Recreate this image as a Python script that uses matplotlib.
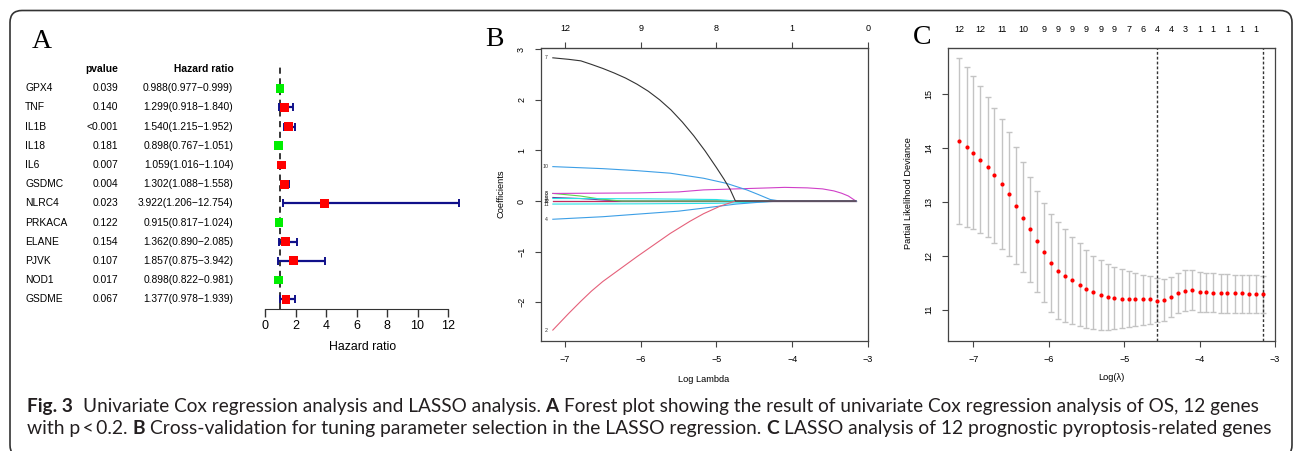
import numpy as np
import matplotlib
matplotlib.use('Agg')
import matplotlib.pyplot as plt
from matplotlib.patches import FancyBboxPatch
from matplotlib.transforms import IdentityTransform, blended_transform_factory

W, H = 1295, 451

plt.rcParams['font.family'] = ['Liberation Sans', 'DejaVu Sans']

# ---------------- A: univariate cox ----------------
genes = ['GPX4', 'TNF', 'IL1B', 'IL18', 'IL6', 'GSDMC', 'NLRC4', 'PRKACA', 'ELANE', 'PJVK', 'NOD1', 'GSDME']
pvals = ['0.039', '0.140', '<0.001', '0.181', '0.007', '0.004', '0.023', '0.122', '0.154', '0.107', '0.017', '0.067']
hr = [0.988, 1.299, 1.540, 0.898, 1.059, 1.302, 3.922, 0.915, 1.362, 1.857, 0.898, 1.377]
hr_low = [0.977, 0.918, 1.215, 0.767, 1.016, 1.088, 1.206, 0.817, 0.890, 0.875, 0.822, 0.978]
hr_high = [0.999, 1.840, 1.952, 1.051, 1.104, 1.558, 12.754, 1.024, 2.085, 3.942, 0.981, 1.939]
hr_ticks = [0, 2, 4, 6, 8, 10, 12]

# ---------------- B: lasso coefficient paths ----------------
path_7_x = [-7.16, -6.95, -6.79, -6.65, -6.5, -6.35, -6.2, -6.05, -5.9, -5.75, -5.6, -5.45,
            -5.3, -5.15, -5.0, -4.9, -4.82, -4.75, -3.16]
path_7_y = [2.83, 2.80, 2.77, 2.70, 2.62, 2.53, 2.43, 2.31, 2.17, 2.00, 1.80, 1.56,
            1.29, 0.99, 0.66, 0.43, 0.23, 0.0, 0.0]
path_2_x = [-7.16, -6.95, -6.79, -6.65, -6.5, -6.05, -5.61, -5.35, -5.17, -4.95, -4.75, -3.16]
path_2_y = [-2.55, -2.22, -1.98, -1.78, -1.59, -1.10, -0.64, -0.40, -0.25, -0.10, 0.0, 0.0]
path_10_x = [-7.16, -6.5, -6.05, -5.61, -5.17, -4.87, -4.6, -4.45, -4.29, -4.16, -3.16]
path_10_y = [0.68, 0.64, 0.60, 0.55, 0.45, 0.35, 0.22, 0.13, 0.03, 0.0, 0.0]
path_4_x = [-7.16, -6.5, -6.05, -5.5, -5.17, -4.74, -4.4, -4.16, -3.16]
path_4_y = [-0.36, -0.31, -0.26, -0.20, -0.14, -0.06, -0.02, 0.0, 0.0]
path_6_x = [-7.16, -6.05, -5.5, -5.17, -4.74, -4.3, -4.1, -3.8, -3.6, -3.45, -3.35, -3.26, -3.16]
path_6_y = [0.15, 0.16, 0.18, 0.22, 0.24, 0.26, 0.27, 0.26, 0.24, 0.20, 0.155, 0.10, 0.0]
path_3_x = [-7.16, -6.80, -6.54, -6.25, -3.16]
path_3_y = [0.15, 0.10, 0.04, 0.0, 0.0]
path_5_x = [-7.16, -6.0, -5.0, -4.75, -3.16]
path_5_y = [0.05, 0.045, 0.03, 0.0, 0.0]
path_11_x = [-7.16, -6.0, -5.0, -4.6, -4.2, -3.16]
path_11_y = [-0.06, -0.055, -0.045, -0.03, 0.0, 0.0]
path_9_x = [-7.16, -6.8, -6.3, -3.16]
path_9_y = [0.07, 0.05, 0.0, 0.0]
path_0_x = [-7.16, -3.16]
path_0_y = [0.0, 0.0]

paths = [
    ('1', '#333333', path_0_x, path_0_y),
    ('8', '#2297E6', path_0_x, path_0_y),
    ('12', '#C8285A', path_0_x, path_0_y),
    ('9', '#6A3D9A', path_9_x, path_9_y),
    ('3', '#61D04F', path_3_x, path_3_y),
    ('5', '#28E2E5', path_5_x, path_5_y),
    ('11', '#28E2E5', path_11_x, path_11_y),
    ('6', '#D040C8', path_6_x, path_6_y),
    ('4', '#3D9FE6', path_4_x, path_4_y),
    ('10', '#3D9FE6', path_10_x, path_10_y),
    ('2', '#E5607A', path_2_x, path_2_y),
    ('7', '#333333', path_7_x, path_7_y),
]
b_top_at = [-7, -6, -5, -4, -3]
b_top_df = ['12', '9', '8', '1', '0']

# ---------------- C: cross validation ----------------
cv_lambda = [-7.19, -7.09, -7.00, -6.91, -6.81, -6.72, -6.62, -6.53, -6.44, -6.34, -6.25,
             -6.16, -6.06, -5.97, -5.88, -5.78, -5.69, -5.59, -5.50, -5.41, -5.31, -5.22,
             -5.13, -5.03, -4.94, -4.85, -4.75, -4.66, -4.56, -4.47, -4.38, -4.28, -4.19,
             -4.10, -4.00, -3.91, -3.82, -3.72, -3.63, -3.53, -3.44, -3.35, -3.25, -3.16]
cv_mean = [14.14, 14.03, 13.92, 13.79, 13.65, 13.50, 13.34, 13.15, 12.93, 12.71, 12.49,
           12.28, 12.07, 11.87, 11.72, 11.63, 11.54, 11.46, 11.39, 11.32, 11.27, 11.24,
           11.22, 11.19, 11.19, 11.19, 11.19, 11.19, 11.16, 11.17, 11.24, 11.30, 11.35,
           11.36, 11.33, 11.32, 11.31, 11.31, 11.31, 11.30, 11.30, 11.29, 11.29, 11.28]
cv_upper = [15.68, 15.52, 15.34, 15.15, 14.96, 14.75, 14.55, 14.31, 14.02, 13.74, 13.46,
            13.21, 12.98, 12.77, 12.62, 12.49, 12.35, 12.23, 12.10, 12.00, 11.92, 11.84,
            11.79, 11.75, 11.71, 11.68, 11.65, 11.63, 11.59, 11.56, 11.61, 11.67, 11.73,
            11.73, 11.70, 11.68, 11.67, 11.66, 11.66, 11.65, 11.65, 11.64, 11.64, 11.63]
cv_lower = [12.59, 12.54, 12.50, 12.43, 12.34, 12.24, 12.13, 12.00, 11.84, 11.69, 11.51,
            11.33, 11.14, 10.95, 10.82, 10.76, 10.73, 10.70, 10.66, 10.63, 10.62, 10.62,
            10.63, 10.65, 10.67, 10.70, 10.72, 10.73, 10.76, 10.78, 10.86, 10.93, 10.98,
            10.99, 10.96, 10.95, 10.95, 10.94, 10.94, 10.94, 10.93, 10.93, 10.93, 10.93]
lambda_min = -4.56
lambda_1se = -3.16
nzero_idx = [0, 3, 6, 9, 12, 14, 16, 18, 20, 22, 24, 26, 28, 30, 32, 34, 36, 38, 40, 42]
nzero_lab = ['12', '12', '11', '10', '9', '9', '9', '9', '9', '9', '7', '6', '4', '4', '3',
             '1', '1', '1', '1', '1']

# caption pieces: (text, weight, spaces before)
caption_1 = [('Fig. 3', 'bold', 0),
             ('Univariate Cox regression analysis and LASSO analysis.', 'normal', 2),
             ('A', 'bold', 1),
             ('Forest plot showing the result of univariate Cox regression analysis of OS, 12 genes', 'normal', 1)]
caption_2 = [('with p\u2009<\u20090.2.', 'normal', 0),
             ('B', 'bold', 1),
             ('Cross-validation for tuning parameter selection in the LASSO regression.', 'normal', 1),
             ('C', 'bold', 1),
             ('LASSO analysis of 12 prognostic pyroptosis-related genes', 'normal', 1)]


def fx(x):
    return x / W


def fy(y):
    return 1 - y / H


def box(l, t, r, b):
    return [fx(l), fy(b), (r - l) / W, (b - t) / H]


fig = plt.figure(figsize=(W / 100, H / 100), dpi=100)

# outer rounded frame
frame = FancyBboxPatch((10, -6), 1282, H - 10.5 + 6, boxstyle='round,pad=0,rounding_size=12',
                       transform=IdentityTransform(), fill=False, ec='#333333', lw=1.2)
fig.patches.append(frame)

# ================= panel A =================
axa = fig.add_axes(box(265, 63, 448, 309))
rows = np.arange(len(genes))
axa.set_xlim(0, 12)
axa.set_ylim(11.51, -1.32)
hr = np.array(hr)
err = [hr - np.array(hr_low), np.array(hr_high) - hr]
axa.errorbar(hr, rows, xerr=err, fmt='none', ecolor='#10108A', elinewidth=1.6,
             capsize=2.8, capthick=1.4, clip_on=False, zorder=2)
cols = ['#FF0000' if v > 1 else '#00EE00' for v in hr]
axa.scatter(hr, rows, marker='s', s=40, c=cols, zorder=3, clip_on=False, linewidths=0)
axa.axvline(1, ls=(0, (4, 3)), color='black', lw=1.1, zorder=1)
for s in ['top', 'right', 'left']:
    axa.spines[s].set_visible(False)
axa.spines['bottom'].set_bounds(0, 12)
axa.spines['bottom'].set_color('#333333')
axa.set_xticks(hr_ticks)
axa.set_yticks([])
axa.tick_params(axis='x', direction='out', length=6, width=1, labelsize=9, pad=2, color='#333333')
fig.text(fx(362.7), fy(346.7), 'Hazard ratio', ha='center', va='center', fontsize=8.8)

tr = blended_transform_factory(fig.transFigure, axa.transData)
axa.text(fx(118.3), -1.0, 'pvalue', transform=tr, ha='right', va='center', fontsize=7.4, fontweight='bold')
axa.text(fx(233.3), -1.0, 'Hazard ratio', transform=tr, ha='right', va='center', fontsize=7.4, fontweight='bold')
for i in rows:
    axa.text(fx(25), i, genes[i], transform=tr, ha='left', va='center', fontsize=7.4)
    axa.text(fx(118.3), i, pvals[i], transform=tr, ha='right', va='center', fontsize=7.4)
    s = '%.3f(%.3f\u2212%.3f)' % (hr[i], hr_low[i], hr_high[i])
    axa.text(fx(233.3), i, s, transform=tr, ha='right', va='center', fontsize=7.4)

# ================= panel B =================
axb = fig.add_axes(box(540.7, 47.7, 868, 340.7))
for lab, c, xs, ys in paths:
    axb.plot(xs, ys, color=c, lw=0.8)
    axb.text(-7.25, ys[0], lab, fontsize=3.8, ha='center', va='center', color='#333333')
axb.set_xlim(-7.32, -3.0)
axb.set_ylim(-2.76, 3.03)
axb.set_xticks([-7, -6, -5, -4, -3])
axb.set_yticks([-2, -1, 0, 1, 2, 3])
axb.set_xticklabels(['\u22127', '\u22126', '\u22125', '\u22124', '\u22123'])
axb.set_yticklabels(['\u22122', '\u22121', '0', '1', '2', '3'], rotation=90, va='center')
axb.tick_params(direction='out', length=4, width=0.8, labelsize=6.5, pad=6.5, color='#444444')
secb = axb.secondary_xaxis('top')
secb.set_xticks(b_top_at, labels=b_top_df)
secb.tick_params(direction='out', length=4, width=0.8, labelsize=6.5, pad=6.5, color='#444444')
secb.spines['top'].set_color('#444444')
for s in axb.spines.values():
    s.set_color('#444444')
    s.set_linewidth(0.9)
fig.text(fx(501), fy(194), 'Coefficients', rotation=90, ha='center', va='center', fontsize=6.7)
fig.text(fx(704), fy(380), 'Log Lambda', ha='center', va='center', fontsize=6.7)

# ================= panel C =================
axc = fig.add_axes(box(947.7, 47.7, 1275, 340.7))
m = np.array(cv_mean)
axc.errorbar(cv_lambda, m, yerr=[m - np.array(cv_lower), np.array(cv_upper) - m], fmt='none',
             ecolor='#C4C4C4', elinewidth=1.0, capsize=2.4, capthick=1.0, zorder=1)
axc.plot(cv_lambda, m, 'o', color='#FF0000', ms=3.0, mew=0, zorder=3)
axc.axvline(lambda_min, ls=(0, (2, 1.5)), color='#333333', lw=1.0, zorder=2)
axc.axvline(lambda_1se, ls=(0, (2, 1.5)), color='#333333', lw=1.0, zorder=2)
axc.set_xlim(-7.34, -3.0)
axc.set_ylim(10.42, 15.87)
axc.set_xticks([-7, -6, -5, -4, -3])
axc.set_xticklabels(['\u22127', '\u22126', '\u22125', '\u22124', '\u22123'])
axc.set_yticks([11, 12, 13, 14, 15])
axc.set_yticklabels(['11', '12', '13', '14', '15'], rotation=90, va='center')
axc.tick_params(direction='out', length=4, width=0.8, labelsize=6.5, pad=6.5, color='#444444')
secc = axc.secondary_xaxis('top')
secc.set_xticks([cv_lambda[i] for i in nzero_idx], labels=nzero_lab)
secc.tick_params(length=0, labelsize=6.5, pad=10)
secc.spines['top'].set_color('#444444')
for s in axc.spines.values():
    s.set_color('#444444')
    s.set_linewidth(0.9)
fig.text(fx(908.3), fy(193), 'Partial Likelihood Deviance', rotation=90, ha='center', va='center', fontsize=6.7)
fig.text(fx(1111), fy(378), 'Log(\u03bb)', ha='center', va='center', fontsize=6.7)

# panel letters
for lab, x, y in [('A', 41.7, 41.7), ('B', 494, 40), ('C', 921.7, 37)]:
    fig.text(fx(x), fy(y), lab, ha='center', va='center', fontsize=20, family='Liberation Serif')

# caption, laid out piece by piece so the bold letters sit inline
cap_font = ['Lato', 'DejaVu Sans']
rend = fig.canvas.get_renderer()


def text_w(s, size, weight):
    t = fig.text(0, 0, s, fontsize=size, fontweight=weight, family=cap_font)
    w = t.get_window_extent(rend).width
    t.remove()
    return w


def caption_line(pieces, x0, y, target, size=12.0):
    for k in range(2):
        sp = text_w('n n', size, 'normal') - text_w('nn', size, 'normal')
        total = 0
        for s, wt, gap in pieces:
            total += gap * sp + text_w(s, size, wt)
        size = size * target / total
    sp = text_w('n n', size, 'normal') - text_w('nn', size, 'normal')
    x = x0
    for s, wt, gap in pieces:
        x += gap * sp
        fig.text(fx(x), fy(y), s, fontsize=size, fontweight=wt, family=cap_font,
                 ha='left', va='baseline', color='#231F20')
        x += text_w(s, size, wt)


caption_line(caption_1, 27, 411.7, 1230)
caption_line(caption_2, 27, 434.3, 1247)

fig.savefig('out.png', dpi=100)
